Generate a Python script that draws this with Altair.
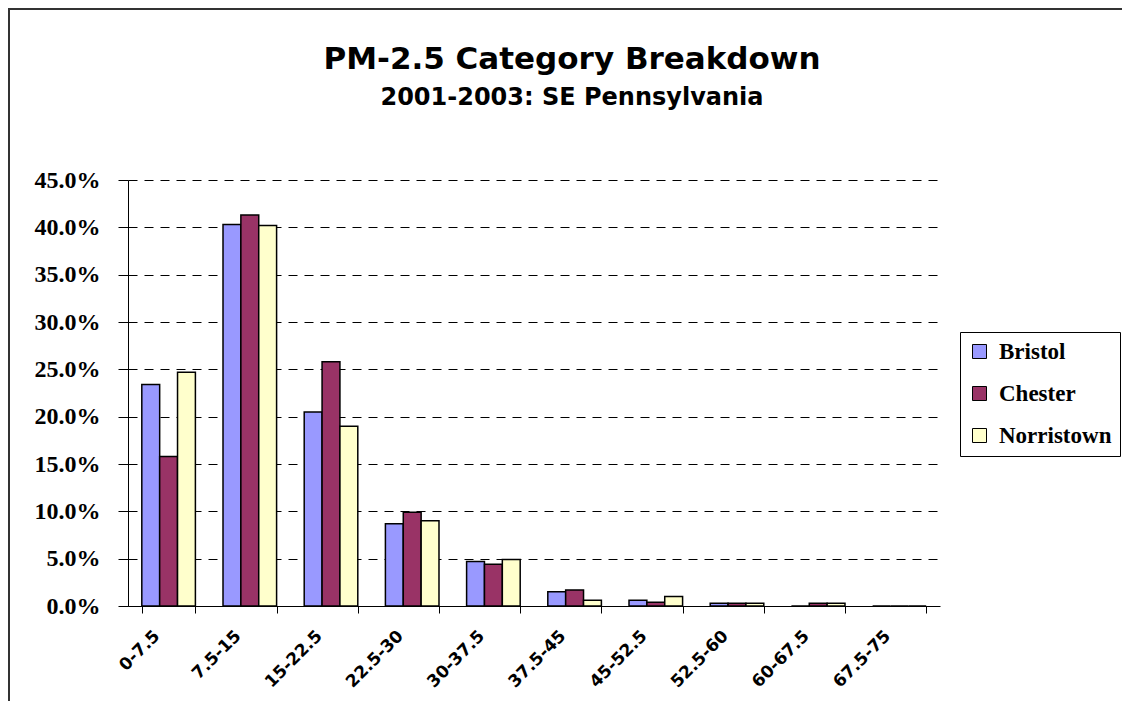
import altair as alt
import pandas as pd

categories = ["0-7.5", "7.5-15", "15-22.5", "22.5-30", "30-37.5",
              "37.5-45", "45-52.5", "52.5-60", "60-67.5", "67.5-75"]
sites = ["Bristol", "Chester", "Norristown"]
bristol = [0.234, 0.403, 0.205, 0.087, 0.047, 0.015, 0.006, 0.003, 0.0, 0.0]
chester = [0.158, 0.413, 0.258, 0.099, 0.044, 0.017, 0.004, 0.003, 0.003, 0.0]
norristown = [0.247, 0.402, 0.190, 0.090, 0.049, 0.006, 0.010, 0.003, 0.003, 0.0]
colors = ["#9999FF", "#993366", "#FFFFCC"]
y_ticks = [0.0, 0.05, 0.10, 0.15, 0.20, 0.25, 0.30, 0.35, 0.40, 0.45]

rows = []
for site, vals in zip(sites, [bristol, chester, norristown]):
    for c, v in zip(categories, vals):
        rows.append({"Range": c, "Site": site, "Share": v})
df = pd.DataFrame(rows)

one = pd.DataFrame({"k": [0]})
frame_left = alt.Chart(one).mark_rule(stroke="#333333", strokeWidth=2).encode(
    x=alt.value(-119), y=alt.value(-172), y2=alt.value(900)
)
frame_top = alt.Chart(one).mark_rule(stroke="#333333", strokeWidth=2).encode(
    x=alt.value(-120), x2=alt.value(994), y=alt.value(-171)
)

bars = alt.Chart(df).mark_bar(stroke="black", strokeWidth=1.5).encode(
    x=alt.X("Range:N", sort=categories, title=None,
            scale=alt.Scale(paddingInner=0.34, paddingOuter=0.17),
            axis=alt.Axis(tickBand="extent", labelAngle=-45, labelAlign="right",
                          labelBaseline="middle", labelFont="DejaVu Sans",
                          labelFontWeight="bold", labelFontSize=17, labelColor="black",
                          tickSize=7, tickColor="black", domainColor="black",
                          labelPadding=20, labelOffset=-12, grid=False)),
    xOffset=alt.XOffset("Site:N", sort=sites,
                        scale=alt.Scale(paddingInner=0, paddingOuter=0)),
    y=alt.Y("Share:Q", title=None, scale=alt.Scale(domain=[0, 0.45]),
            axis=alt.Axis(format=".1%", values=y_ticks, labelFont="Liberation Serif",
                          labelFontWeight="bold", labelFontSize=24, labelColor="black",
                          labelPadding=18, tickSize=10, tickColor="black",
                          domainColor="black", grid=True, gridDash=[9, 7],
                          gridColor="black", gridWidth=1)),
    color=alt.Color("Site:N", scale=alt.Scale(domain=sites, range=colors),
                    legend=alt.Legend(orient="none", legendX=832, legendY=152, title=None,
                                      labelFont="Liberation Serif", labelFontSize=23,
                                      labelFontWeight="bold", labelColor="black",
                                      symbolType="square", symbolSize=196,
                                      symbolStrokeColor="black", symbolStrokeWidth=1,
                                      symbolOpacity=1,
                                      strokeColor="black", fillColor="white",
                                      padding=8, rowPadding=18, labelOffset=8))
)

chart = alt.layer(frame_left, frame_top, bars).properties(
    width=812, height=426,
    padding={"left": 120, "top": 172, "right": 182, "bottom": 95},
    autosize=alt.AutoSizeParams(type="none"),
    title=alt.Title(text="PM-2.5 Category Breakdown",
                    subtitle="2001-2003: SE Pennsylvania",
                    font="DejaVu Sans", fontSize=31, fontWeight="bold", color="black",
                    subtitleFont="DejaVu Sans", subtitleFontSize=24,
                    subtitleFontWeight="bold", subtitleColor="black",
                    anchor="middle", frame="group", dx=38, offset=-104,
                    subtitlePadding=10)
).configure_view(stroke=None)

chart.save("out.html", embed_options={"renderer": "svg", "actions": False})
